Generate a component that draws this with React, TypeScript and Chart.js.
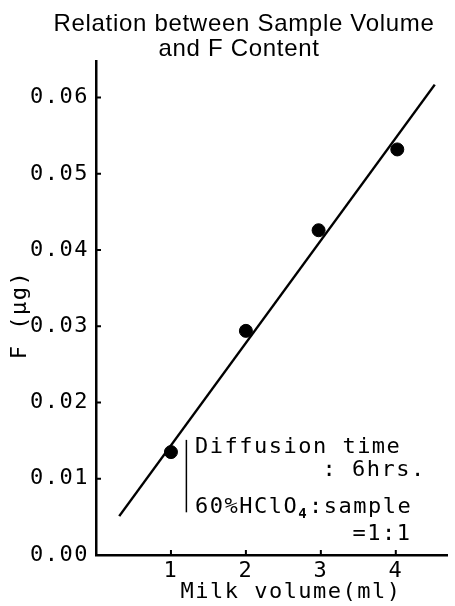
import { useEffect, useRef } from 'react';
import { Chart, registerables } from 'chart.js';

Chart.register(...registerables);

// ---- Data ----
const TITLE_LINES = ['Relation between Sample Volume', 'and F Content'];
const X_TITLE = 'Milk volume(ml)';
const Y_TITLE = 'F (μg)';

const MILK_VOLUME = [1, 2, 2.97, 4.02];
const F_CONTENT = [0.0135, 0.0294, 0.0426, 0.0532];

const FIT_X = [0.31, 4.52];
const FIT_Y = [0.0051, 0.0617];

const X_TICKS = [1, 2, 3, 4];
const Y_TICKS = [0, 0.01, 0.02, 0.03, 0.04, 0.05, 0.06];

const X_RANGE = [0, 4.69];
const Y_RANGE = [0, 0.0648];

// annotation block (data coordinates)
const NOTE_TEXTS = ['Diffusion time', ': 6hrs.', '60%HClO|4|:sample', '=1:1'];
const NOTE_X = [1.32, 4.4, 1.32, 4.21];
const NOTE_Y = [0.0141, 0.0111, 0.0062, 0.0027];
const NOTE_ALIGN = ['left', 'right', 'left', 'right'];
const BRACKET_X = 1.206;
const BRACKET_Y = [0.0151, 0.0056];

const MONO = "'DejaVu Sans Mono', monospace";
const SANS = "'Liberation Sans', Arial, sans-serif";

const decorPlugin = {
  id: 'decor',
  beforeDraw(chart: any) {
    chart.ctx.letterSpacing = '1.5px';
  },
  afterDraw(chart: any) {
    const ctx = chart.ctx as CanvasRenderingContext2D;
    const xs = chart.scales.x;
    const ys = chart.scales.y;
    const area = chart.chartArea;
    ctx.save();
    ctx.strokeStyle = '#000';
    ctx.fillStyle = '#000';

    // inward tick marks
    ctx.lineWidth = 2;
    ctx.beginPath();
    X_TICKS.forEach((v) => {
      const px = xs.getPixelForValue(v);
      ctx.moveTo(px, area.bottom);
      ctx.lineTo(px, area.bottom - 5);
    });
    Y_TICKS.forEach((v) => {
      if (v === 0) return;
      const py = ys.getPixelForValue(v);
      ctx.moveTo(area.left, py);
      ctx.lineTo(area.left + 5, py);
    });
    ctx.stroke();

    // title
    ctx.letterSpacing = '0.7px';
    ctx.font = `24px ${SANS}`;
    ctx.textAlign = 'center';
    ctx.textBaseline = 'alphabetic';
    ctx.fillText(TITLE_LINES[0], 244, 31);
    ctx.fillText(TITLE_LINES[1], 239, 56);

    // axis titles
    ctx.letterSpacing = '1.5px';
    ctx.font = `22px ${MONO}`;
    ctx.textBaseline = 'middle';
    ctx.fillText(X_TITLE, 291, 592);
    ctx.save();
    ctx.translate(20, 315);
    ctx.rotate(-Math.PI / 2);
    ctx.fillText(Y_TITLE, 0, 0);
    ctx.restore();

    // bracket
    ctx.lineWidth = 1.5;
    ctx.beginPath();
    const bx = xs.getPixelForValue(BRACKET_X);
    ctx.moveTo(bx, ys.getPixelForValue(BRACKET_Y[0]));
    ctx.lineTo(bx, ys.getPixelForValue(BRACKET_Y[1]));
    ctx.stroke();

    // annotation texts
    ctx.font = `22px ${MONO}`;
    ctx.textBaseline = 'middle';
    NOTE_TEXTS.forEach((t, i) => {
      const parts = t.split('|');
      const px = xs.getPixelForValue(NOTE_X[i]);
      const py = ys.getPixelForValue(NOTE_Y[i]);
      if (parts.length === 1) {
        ctx.textAlign = NOTE_ALIGN[i] as CanvasTextAlign;
        ctx.fillText(t, px, py);
      } else {
        ctx.textAlign = 'left';
        let cx = px;
        ctx.font = `22px ${MONO}`;
        ctx.fillText(parts[0], cx, py);
        cx += ctx.measureText(parts[0]).width;
        ctx.font = `bold 14px ${MONO}`;
        ctx.fillText(parts[1], cx, py + 7);
        cx += ctx.measureText(parts[1]).width + 1;
        ctx.font = `22px ${MONO}`;
        ctx.fillText(parts[2], cx, py);
      }
    });

    ctx.restore();
    ctx.letterSpacing = '0px';
  },
};

export default function App() {
  const ref = useRef<HTMLCanvasElement | null>(null);

  useEffect(() => {
    if (!ref.current) return;
    const chart = new Chart(ref.current, {
      type: 'scatter',
      data: {
        datasets: [
          {
            type: 'line',
            label: 'fit',
            data: FIT_X.map((x, i) => ({ x, y: FIT_Y[i] })),
            borderColor: '#000',
            borderWidth: 2.5,
            pointRadius: 0,
            fill: false,
          } as any,
          {
            label: 'F content',
            data: MILK_VOLUME.map((x, i) => ({ x, y: F_CONTENT[i] })),
            backgroundColor: '#000',
            borderColor: '#000',
            pointRadius: 6.5,
            pointHoverRadius: 6.5,
          },
        ],
      },
      options: {
        animation: false,
        responsive: true,
        maintainAspectRatio: false,
        layout: { padding: { top: 61, left: 0, right: 0, bottom: 0 } },
        plugins: {
          legend: { display: false },
          tooltip: { enabled: false },
          title: { display: false },
        },
        scales: {
          x: {
            type: 'linear',
            min: X_RANGE[0],
            max: X_RANGE[1],
            afterBuildTicks: (s: any) => {
              s.ticks = X_TICKS.map((v) => ({ value: v }));
            },
            afterFit: (s: any) => {
              s.height = 51;
            },
            grid: { display: false, drawTicks: false },
            border: { display: true, color: '#000', width: 2.5 },
            ticks: {
              color: '#000',
              font: { family: MONO, size: 22 },
              padding: 3,
              callback: (v: any) => String(v),
            },
          },
          y: {
            type: 'linear',
            min: Y_RANGE[0],
            max: Y_RANGE[1],
            afterBuildTicks: (s: any) => {
              s.ticks = Y_TICKS.map((v) => ({ value: v }));
            },
            afterFit: (s: any) => {
              s.width = 96;
            },
            grid: { display: false, drawTicks: false },
            border: { display: true, color: '#000', width: 2.5 },
            ticks: {
              color: '#000',
              font: { family: MONO, size: 22 },
              padding: 7,
              callback: (v: any) => Number(v).toFixed(2),
            },
          },
        },
      },
      plugins: [decorPlugin],
    });
    return () => chart.destroy();
  }, []);

  return (
    <div style={{ position: 'absolute', left: 0, top: 0, width: 455, height: 606, background: '#fff' }}>
      <canvas ref={ref} />
    </div>
  );
}
